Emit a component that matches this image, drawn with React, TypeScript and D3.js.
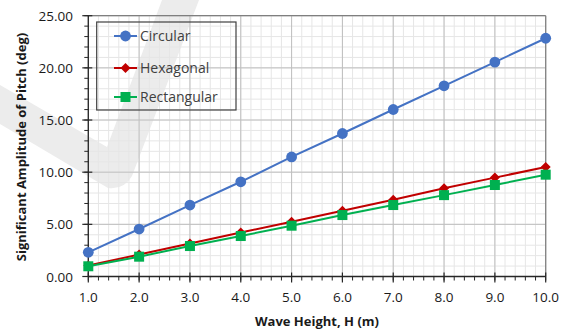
import React from "react";
import * as d3 from "d3";

const waveHeights = [1, 2, 3, 4, 5, 6, 7, 8, 9, 10];
const circular = [2.32, 4.55, 6.85, 9.08, 11.46, 13.71, 16.01, 18.28, 20.55, 22.84];
const hexagonal = [1.05, 2.1, 3.17, 4.22, 5.25, 6.3, 7.36, 8.45, 9.48, 10.5];
const rectangular = [0.98, 1.9, 2.92, 3.88, 4.87, 5.89, 6.85, 7.8, 8.77, 9.76];
const seriesNames = ["Circular", "Hexagonal", "Rectangular"];
const xTicks = [1, 2, 3, 4, 5, 6, 7, 8, 9, 10];
const yTicks = [0, 5, 10, 15, 20, 25];
const xTitle = "Wave Height, H (m)";
const yTitle = "Significant Amplitude of Pitch (deg)";

const W = 569, H = 332;
const L = 88.3, R = 545.7, T = 15.7, B = 276.5;
const FONT = "'Open Sans', sans-serif";

export default function App() {
  const x = d3.scaleLinear().domain([1, 10]).range([L, R]);
  const y = d3.scaleLinear().domain([0, 25]).range([B, T]);
  const series = [
    { name: seriesNames[0], values: circular, color: "#4472C4", shape: "circle" },
    { name: seriesNames[1], values: hexagonal, color: "#C00000", shape: "diamond" },
    { name: seriesNames[2], values: rectangular, color: "#00B050", shape: "square" },
  ];
  const line = d3.line<number>().x((_, i) => x(waveHeights[i])).y((d) => y(d));
  const xMinor = d3.range(1, 10.001, 0.2);
  const yMinor = d3.range(0, 25.001, 1);

  const marker = (shape: string, cx: number, cy: number, color: string, key: any) => {
    if (shape === "circle") return <circle key={key} cx={cx} cy={cy} r={5.4} fill={color} />;
    if (shape === "square") return <rect key={key} x={cx - 5} y={cy - 5} width={10} height={10} fill={color} />;
    const s = 5;
    return <path key={key} d={`M${cx},${cy - s}L${cx + s},${cy}L${cx},${cy + s}L${cx - s},${cy}Z`} fill={color} />;
  };

  const legendRows = [36, 68, 97];

  return (
    <svg width={W} height={H} style={{ position: "absolute", left: 0, top: 0, background: "#fff" }}>
      {/* watermark */}
      <path
        d="M0,85 L107,147 L162,0 L199,0 L132,176 Q124,190 108,188 L0,124 Z"
        fill="#ececec"
      />
      {/* minor grid */}
      {xMinor.map((v, i) => (
        <line key={"xm" + i} x1={x(v)} x2={x(v)} y1={T} y2={B} stroke="#e6e6e6" strokeWidth={1} />
      ))}
      {yMinor.map((v, i) => (
        <line key={"ym" + i} x1={L} x2={R} y1={y(v)} y2={y(v)} stroke="#e6e6e6" strokeWidth={1} />
      ))}
      {/* major grid */}
      {xTicks.map((v, i) => (
        <line key={"xg" + i} x1={x(v)} x2={x(v)} y1={T} y2={B} stroke="#bfbfbf" strokeWidth={1} />
      ))}
      {yTicks.map((v, i) => (
        <line key={"yg" + i} x1={L} x2={R} y1={y(v)} y2={y(v)} stroke="#bfbfbf" strokeWidth={1} />
      ))}
      {/* border */}
      <line x1={L} x2={R} y1={T} y2={T} stroke="#7f7f7f" strokeWidth={1.2} />
      <line x1={R} x2={R} y1={T} y2={B} stroke="#7f7f7f" strokeWidth={1.2} />
      {/* axes */}
      <line x1={L} x2={R} y1={B} y2={B} stroke="#262626" strokeWidth={1.3} />
      <line x1={L} x2={L} y1={T} y2={B} stroke="#262626" strokeWidth={1.3} />
      {xMinor.map((v, i) => (
        <line key={"xt" + i} x1={x(v)} x2={x(v)} y1={B} y2={B + 4} stroke="#262626" strokeWidth={1} />
      ))}
      {xTicks.map((v, i) => (
        <line key={"xT" + i} x1={x(v)} x2={x(v)} y1={B - 4} y2={B + 6} stroke="#262626" strokeWidth={1.2} />
      ))}
      {yMinor.map((v, i) => (
        <line key={"yt" + i} x1={L - 4} x2={L} y1={y(v)} y2={y(v)} stroke="#262626" strokeWidth={1} />
      ))}
      {yTicks.map((v, i) => (
        <line key={"yT" + i} x1={L - 6} x2={L + 4} y1={y(v)} y2={y(v)} stroke="#262626" strokeWidth={1.2} />
      ))}
      {/* tick labels */}
      {xTicks.map((v, i) => (
        <text key={"xl" + i} x={x(v)} y={302} textAnchor="middle" fontFamily={FONT} fontSize={13.5} fill="#1a1a1a">
          {v.toFixed(1)}
        </text>
      ))}
      {yTicks.map((v, i) => (
        <text key={"yl" + i} x={73} y={y(v) + 5} textAnchor="end" fontFamily={FONT} fontSize={13.5} fill="#1a1a1a">
          {v.toFixed(2)}
        </text>
      ))}
      {/* titles */}
      <text x={317} y={326} textAnchor="middle" fontFamily={FONT} fontWeight="bold" fontSize={13} fill="#1a1a1a">
        {xTitle}
      </text>
      <text
        transform={`translate(26,147) rotate(-90)`}
        textAnchor="middle"
        fontFamily={FONT}
        fontWeight="bold"
        fontSize={13}
        fill="#1a1a1a"
      >
        {yTitle}
      </text>
      {/* series */}
      {series.map((s) => (
        <g key={s.name}>
          <path d={line(s.values) || ""} fill="none" stroke={s.color} strokeWidth={2} />
          {s.values.map((v, i) => marker(s.shape, x(waveHeights[i]), y(v), s.color, i))}
        </g>
      ))}
      {/* legend */}
      <rect x={96.7} y={22} width={139.3} height={88} fill="none" stroke="#404040" strokeWidth={1.2} />
      {series.map((s, i) => (
        <g key={"lg" + i}>
          <line x1={114} x2={137} y1={legendRows[i]} y2={legendRows[i]} stroke={s.color} strokeWidth={2} />
          {marker(s.shape, 125.5, legendRows[i], s.color, "m")}
          <text x={140} y={legendRows[i] + 5} fontFamily={FONT} fontSize={14} fill="#404040">
            {s.name}
          </text>
        </g>
      ))}
    </svg>
  );
}
